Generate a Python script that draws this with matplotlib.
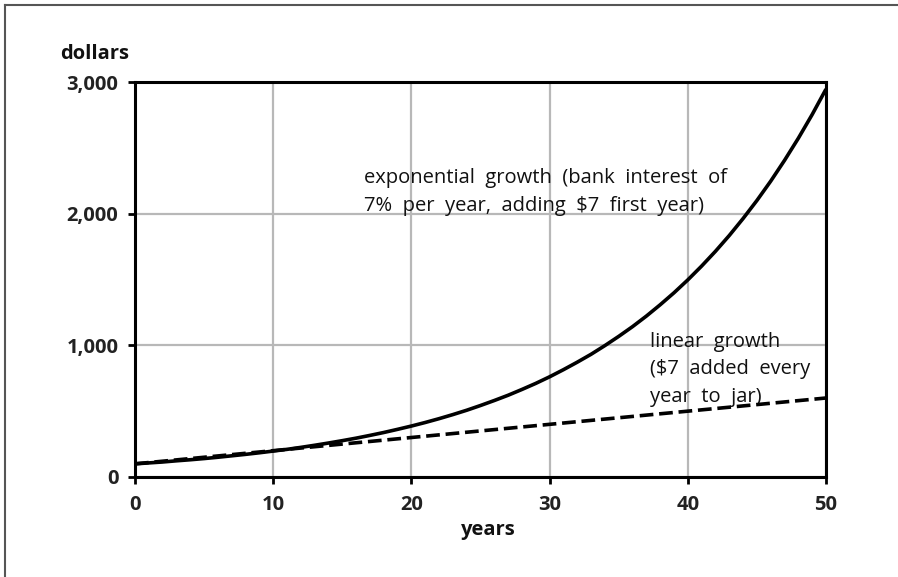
import matplotlib
matplotlib.use("Agg")
import matplotlib.pyplot as plt
from matplotlib.lines import Line2D

years_exp = list(range(0, 51))
dollars_exp = [100, 107, 114, 123, 131, 140, 150, 161, 172, 184,
               197, 210, 225, 241, 258, 276, 295, 316, 338, 362,
               387, 414, 443, 474, 507, 543, 581, 621, 665, 711,
               761, 815, 872, 932, 998, 1068, 1142, 1222, 1308, 1399,
               1497, 1602, 1714, 1834, 1963, 2100, 2247, 2405, 2573, 2753,
               2946]
years_lin = [0, 10, 20, 30, 40, 50]
dollars_lin = [100, 200, 300, 400, 500, 600]
xticks = [0, 10, 20, 30, 40, 50]
yticks = [0, 1000, 2000, 3000]
ytick_labels = ["0", "1,000", "2,000", "3,000"]

plt.rcParams['font.family'] = ['Open Sans', 'DejaVu Sans']

W, H = 898, 577
fig = plt.figure(figsize=(W / 100, H / 100), dpi=100)
ax = fig.add_axes([135 / W, 1 - 477 / H, (826 - 135) / W, (477 - 82) / H])

ax.set_xlim(0, 50)
ax.set_ylim(0, 3000)
ax.set_xticks(xticks)
ax.set_yticks(yticks)
ax.set_yticklabels(ytick_labels)
ax.grid(True, color='#b8b8b8', linewidth=1.6)
ax.set_axisbelow(True)
for s in ax.spines.values():
    s.set_linewidth(2.2)
    s.set_color('black')
    s.set_zorder(5)
ax.tick_params(direction='out', length=5, width=2, labelsize=14.5, colors='black')
ax.tick_params(axis='x', pad=8)
ax.tick_params(axis='y', pad=7)
for lab in ax.get_xticklabels() + ax.get_yticklabels():
    lab.set_fontweight('bold')
    lab.set_color('#222222')

ax.plot(years_exp, dollars_exp, color='black', linewidth=2.6, solid_capstyle='butt', zorder=4)
ax.plot(years_lin, dollars_lin, color='black', linewidth=2.6, dashes=(3.8, 1.6), zorder=4)

ax.text(16.6, 2350, "exponential  growth  (bank  interest  of\n7%  per  year,  adding  $7  first  year)",
        fontsize=14.5, va='top', ha='left', linespacing=1.55, color='#111111')
ax.text(37.3, 1105, "linear  growth\n($7  added  every\nyear  to  jar)",
        fontsize=14.5, va='top', ha='left', linespacing=1.5, color='#111111')

fig.text(60 / W, 1 - 54 / H, "dollars", fontsize=14.5, fontweight='bold', va='center', ha='left', color='#111111')
fig.text(488 / W, 1 - 530 / H, "years", fontsize=14.5, fontweight='bold', va='center', ha='center', color='#111111')

# outer frame (top and left only)
fig.add_artist(Line2D([5 / W, 1], [1 - 4.5 / H, 1 - 4.5 / H], transform=fig.transFigure, color='#555555', linewidth=1.5))
fig.add_artist(Line2D([5 / W, 5 / W], [0, 1 - 4.5 / H], transform=fig.transFigure, color='#555555', linewidth=1.5))

fig.savefig("out.png", dpi=100)
